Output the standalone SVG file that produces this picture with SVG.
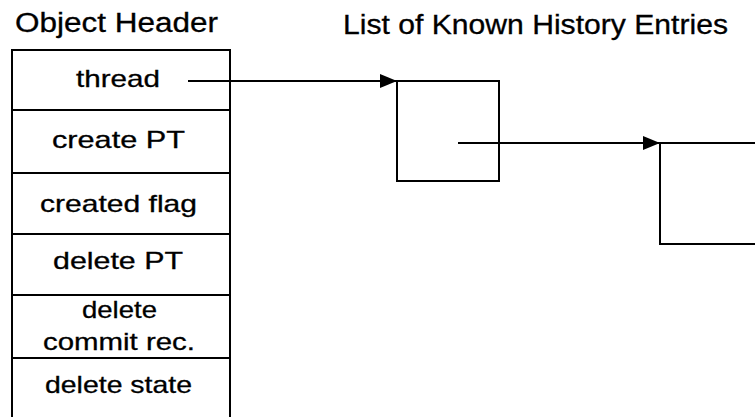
<svg xmlns="http://www.w3.org/2000/svg" width="755" height="417" viewBox="0 0 755 417">
  <style>
    .title { font-family: "Liberation Sans", Arial, sans-serif; font-size: 27px; fill: #000; stroke: #000; stroke-width: 0.3; }
    .cell { font-family: "Liberation Sans", Arial, sans-serif; font-size: 24px; fill: #000; stroke: #000; stroke-width: 0.3; }
    .box { fill: none; stroke: #000; stroke-width: 2; }
    .link { fill: none; stroke: #000; stroke-width: 2; }
  </style>
  <defs>
    <marker id="arrow" viewBox="0 0 17 14" refX="17" refY="7" markerWidth="17" markerHeight="14" markerUnits="userSpaceOnUse" orient="auto">
      <path d="M0,0 L17,7 L0,14 Z" fill="#000"/>
    </marker>
  </defs>
  <rect width="755" height="417" fill="#fff"/>

  <text class="title" x="15" y="32" textLength="203" lengthAdjust="spacingAndGlyphs">Object Header</text>
  <text class="title" x="343" y="34" textLength="385" lengthAdjust="spacingAndGlyphs">List of Known History Entries</text>

  <!-- object header fields -->
  <g id="object-header">
    <path class="box" d="M12,417 V50 H230 V417"/>
    <line class="box" x1="12" y1="110" x2="230" y2="110"/>
    <line class="box" x1="12" y1="173" x2="230" y2="173"/>
    <line class="box" x1="12" y1="234" x2="230" y2="234"/>
    <line class="box" x1="12" y1="295" x2="230" y2="295"/>
    <line class="box" x1="12" y1="358" x2="230" y2="358"/>
    <text class="cell" x="76" y="87" textLength="84" lengthAdjust="spacingAndGlyphs">thread</text>
    <text class="cell" x="52" y="148" textLength="133" lengthAdjust="spacingAndGlyphs">create PT</text>
    <text class="cell" x="40" y="212" textLength="157" lengthAdjust="spacingAndGlyphs">created flag</text>
    <text class="cell" x="53" y="269" textLength="130" lengthAdjust="spacingAndGlyphs">delete PT</text>
    <text class="cell" x="82" y="318" textLength="75" lengthAdjust="spacingAndGlyphs">delete</text>
    <text class="cell" x="43" y="350" textLength="152" lengthAdjust="spacingAndGlyphs">commit rec.</text>
    <text class="cell" x="45" y="393" textLength="147" lengthAdjust="spacingAndGlyphs">delete state</text>
  </g>

  <!-- history entries -->
  <g id="entry-1">
    <rect class="box" x="397" y="81" width="102" height="100"/>
  </g>
  <g id="entry-2">
    <path class="box" d="M757,143 H660 V244 H757"/>
  </g>

  <g id="connectors">
    <line class="link" x1="188" y1="81" x2="397" y2="81" marker-end="url(#arrow)"/>
    <line class="link" x1="458" y1="143" x2="660" y2="143" marker-end="url(#arrow)"/>
  </g>
</svg>
